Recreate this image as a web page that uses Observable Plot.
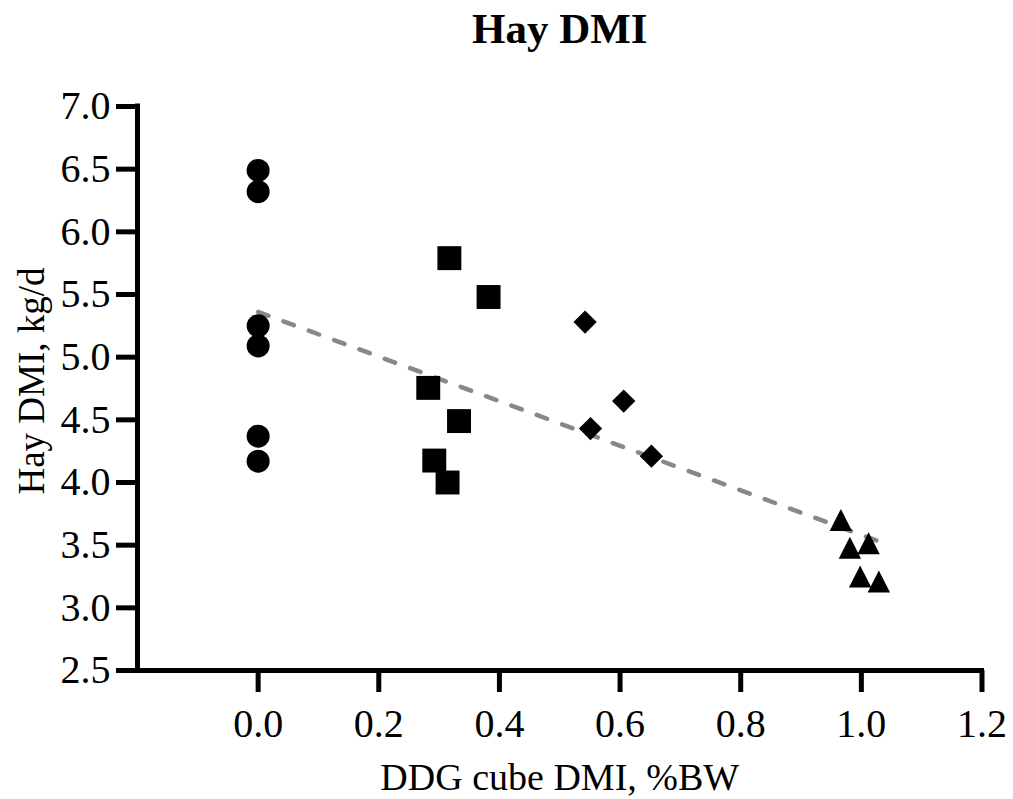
<!DOCTYPE html>
<html><head><meta charset="utf-8">
<script src="https://cdn.jsdelivr.net/npm/d3@7"></script>
<script src="https://cdn.jsdelivr.net/npm/@observablehq/plot@0.6"></script>
<style>
body{margin:0;background:#fff;}
#chart svg{display:block;}
</style>
</head><body><div id="chart"></div>
<script>
// ---- data ----
const title = "Hay DMI";
const xLabel = "DDG cube DMI, %BW";
const yLabel = "Hay DMI, kg/d";
const xTicks = [0.0, 0.2, 0.4, 0.6, 0.8, 1.0, 1.2];
const yTicks = [2.5, 3.0, 3.5, 4.0, 4.5, 5.0, 5.5, 6.0, 6.5, 7.0];

const circleDDG = [0, 0, 0, 0, 0, 0];
const circleHay = [6.49, 6.32, 5.25, 5.09, 4.37, 4.17];
const squareDDG = [0.317, 0.382, 0.282, 0.333, 0.292, 0.314];
const squareHay = [5.79, 5.48, 4.755, 4.49, 4.175, 4.00];
const diamondDDG = [0.542, 0.606, 0.551, 0.652];
const diamondHay = [5.28, 4.65, 4.43, 4.21];
const triangleDDG = [0.966, 0.981, 1.012, 0.998, 1.029];
const triangleHay = [3.70, 3.48, 3.515, 3.25, 3.21];

// ---- build tables ----
const toRows = (xs, ys) => xs.map((x, i) => ({x, y: ys[i]}));
const circles = toRows(circleDDG, circleHay);
const squares = toRows(squareDDG, squareHay);
const diamonds = toRows(diamondDDG, diamondHay);
const triangles = toRows(triangleDDG, triangleHay);
const all = [...circles, ...squares, ...diamonds, ...triangles];

const triangleSym = {
  draw(ctx, size) {
    const s = Math.sqrt(size);
    const h = s / 2, w = s * 0.51;
    ctx.moveTo(0, -h);
    ctx.lineTo(w, h);
    ctx.lineTo(-w, h);
    ctx.closePath();
  }
};

const font = "'Liberation Serif', 'Times New Roman', serif";
const fmt = d3.format(".1f");

const chart = Plot.plot({
  width: 1013,
  height: 799,
  marginLeft: 137,
  marginRight: 31.5,
  marginTop: 106,
  marginBottom: 129,
  style: {fontFamily: font, color: "#000", background: "#fff", overflow: "visible"},
  x: {domain: [-0.2, 1.2], axis: null},
  y: {domain: [2.5, 7.0], axis: null},
  marks: [
    Plot.linearRegressionY(all, {x: "x", y: "y", ci: 0, stroke: "#888", strokeWidth: 4.5, strokeDasharray: "11,16", strokeLinecap: "round"}),
    Plot.dot(circles, {x: "x", y: "y", symbol: "circle", r: 11.5, fill: "#000"}),
    Plot.dot(squares, {x: "x", y: "y", symbol: "square", r: 13.5, fill: "#000"}),
    Plot.dot(diamonds, {x: "x", y: "y", symbol: "diamond2", r: 10.5, fill: "#000"}),
    Plot.dot(triangles, {x: "x", y: "y", symbol: triangleSym, r: 12.4, fill: "#000"}),
    Plot.axisY({ticks: yTicks, tickSize: 21, tickPadding: 6, tickFormat: fmt, fontSize: 40, strokeWidth: 5, label: null}),
    Plot.axisX({ticks: xTicks, tickSize: 22, tickPadding: 16, tickFormat: fmt, fontSize: 40, strokeWidth: 5, label: null}),
    Plot.ruleX([-0.2], {y1: 2.5, y2: 7.0, strokeWidth: 5, strokeLinecap: "square"}),
    Plot.ruleY([2.5], {x1: -0.2, x2: 1.2, strokeWidth: 5, strokeLinecap: "square"}),
    Plot.text([title], {frameAnchor: "top", textAnchor: "middle", lineAnchor: "bottom", dy: -64, fontSize: 43, fontWeight: "bold"}),
    Plot.text([xLabel], {frameAnchor: "bottom", textAnchor: "middle", lineAnchor: "bottom", dy: 119, fontSize: 38}),
    Plot.text([yLabel], {frameAnchor: "left", textAnchor: "middle", lineAnchor: "bottom", rotate: -90, dx: -94, dy: -7.5, fontSize: 37})
  ]
});
document.getElementById("chart").append(chart);
</script></body></html>
